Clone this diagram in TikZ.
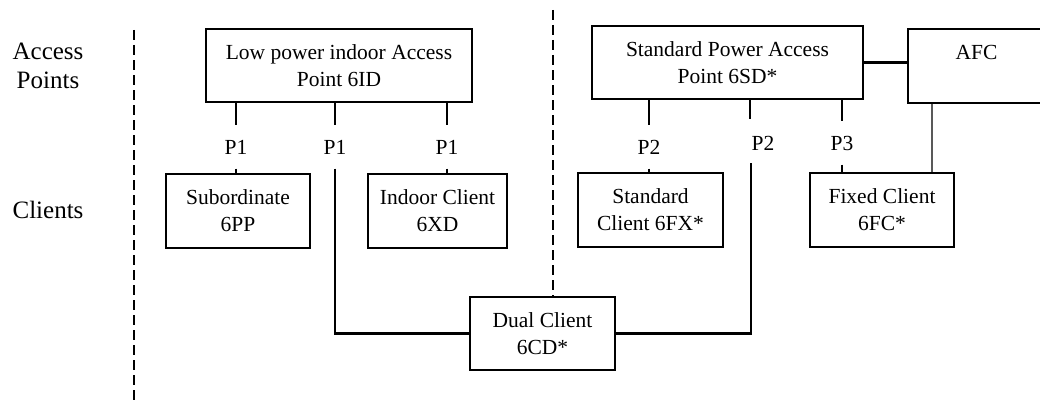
\documentclass[tikz,border=0pt]{standalone}
\usepackage{fontspec}
\setmainfont{Liberation Serif}
\begin{document}
\begin{tikzpicture}[x=1pt,y=-1pt,
  box/.style={draw=black,line width=2.6pt,align=center,inner sep=0pt,
    font=\fontsize{21.5}{27}\selectfont},
  plabel/.style={inner sep=0pt,minimum height=43pt,font=\fontsize{21.5}{25}\selectfont},
  side/.style={align=center,inner sep=0pt,font=\fontsize{25}{29}\selectfont},
  wire/.style={line width=2.6pt},
  gwire/.style={line width=2pt,draw=black!65},
  sep/.style={line width=1.8pt,dash pattern=on 10pt off 5pt}]
\useasboundingbox (0,0) rectangle (1040,404);
% left labels
\node[side] (ap) at (48,66) {Access\\Points};
\node[side] (cl) at (48,210) {Clients};
% separators
\coordinate (s1t) at (134,30);
\coordinate (s1b) at (134,400);
\coordinate (s2t) at (553,10);
\draw[sep] (s1t) -- (s1b);
% boxes
\node[box,minimum width=266pt,minimum height=73pt] (LP) at (339,65.5) {Low power indoor Access\\Point 6ID};
\node[box,minimum width=271pt,minimum height=73pt] (SP) at (727.5,62.5) {Standard Power Access\\Point 6SD*};
\node[box,minimum width=137pt,minimum height=74pt] (AFC) at (976.5,66) {AFC\\\mbox{}};
\node[box,minimum width=144pt,minimum height=74pt] (Sub) at (238,211) {Subordinate\\6PP};
\node[box,minimum width=139pt,minimum height=74pt] (Ind) at (437.5,211) {Indoor Client\\6XD};
\node[box,minimum width=145pt,minimum height=74pt] (Std) at (650.5,210) {Standard\\Client 6FX*};
\node[box,minimum width=144pt,minimum height=74pt] (Fix) at (882,210) {Fixed Client\\6FC*};
\node[box,minimum width=145pt,minimum height=73pt] (Dual) at (542.5,333.5) {Dual Client\\6CD*};
\draw[sep] (s2t) -- (s2t |- Dual.north);
% P labels
\node[plabel] (p1a) at (236,147) {P1};
\node[plabel] (p1b) at (335,147) {P1};
\node[plabel] (p1c) at (447,147) {P1};
\node[plabel] (p2a) at (649,147) {P2};
\node[plabel] (p2b) at (763,143) {P2};
\node[plabel] (p3) at (842,143) {P3};
\coordinate (m2t) at (750,119);
\coordinate (m2) at (751,163);
\coordinate (g) at (932,0);
% connectors
\draw[wire] (LP.south -| p1a) -- (p1a.north);
\draw[wire] (p1a.south) -- (p1a.south |- Sub.north);
\draw[wire] (LP.south -| p1b) -- (p1b.north);
\draw[wire] (p1b.south) -- (p1b.south |- Dual.west) -- (Dual.west);
\draw[wire] (LP.south -| p1c) -- (p1c.north);
\draw[wire] (p1c.south) -- (p1c.south |- Ind.north);
\draw[wire] (SP.south -| p2a) -- (p2a.north);
\draw[wire] (p2a.south) -- (p2a.south |- Std.north);
\draw[wire] (SP.south -| m2t) -- (m2t);
\draw[wire] (m2) -- (m2 |- Dual.east) -- (Dual.east);
\draw[wire] (SP.south -| p3) -- (p3.north);
\draw[wire] (p3.south) -- (p3.south |- Fix.north);
\draw[wire] (SP.east) -- (SP.east -| AFC.west);
\draw[gwire] (AFC.south -| g) -- (g |- Fix.north);
\end{tikzpicture}
\end{document}
